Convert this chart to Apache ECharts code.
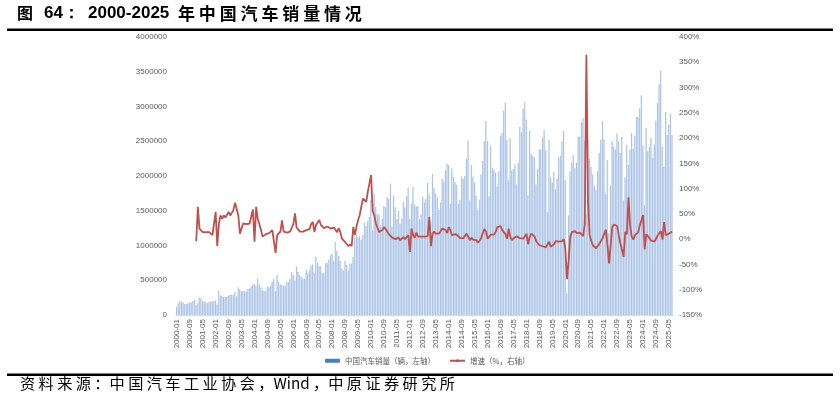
<!DOCTYPE html>
<html>
<head>
<meta charset="utf-8">
<script src="https://cdn.jsdelivr.net/npm/echarts@6/dist/echarts.min.js"></script>
<style>
    html, body { margin: 0; padding: 0; background: #fff; }
    #chart { width: 840px; height: 399px; }
</style>
</head>
<body>
<div id="chart"></div>
<script>
// 月度销量（辆），2000-01 ~ 2025-07
const sales2000 = [120000, 170000, 200000, 190000, 180000, 160000, 160000, 170000, 180000, 180000, 200000, 220000];
const sales2001 = [140000, 170000, 250000, 240000, 200000, 190000, 180000, 170000, 190000, 190000, 200000, 200000];
const sales2002 = [210000, 150000, 350000, 280000, 270000, 260000, 260000, 260000, 280000, 290000, 290000, 290000];
const sales2003 = [330000, 270000, 400000, 370000, 340000, 350000, 340000, 330000, 370000, 380000, 410000, 440000];
const sales2004 = [450000, 420000, 520000, 440000, 400000, 360000, 340000, 350000, 410000, 400000, 420000, 480000];
const sales2005 = [520000, 340000, 580000, 480000, 440000, 430000, 420000, 420000, 480000, 470000, 520000, 620000];
const sales2006 = [580000, 500000, 700000, 620000, 580000, 550000, 520000, 520000, 650000, 600000, 640000, 710000];
const sales2007 = [730000, 600000, 840000, 750000, 700000, 700000, 600000, 600000, 750000, 750000, 800000, 860000];
const sales2008 = [880000, 780000, 1050000, 920000, 850000, 780000, 670000, 640000, 780000, 720000, 640000, 740000];
const sales2009 = [740000, 830000, 1110000, 1150000, 1120000, 1140000, 1080000, 1150000, 1330000, 1280000, 1350000, 1410000];
const sales2010 = [1660000, 1220000, 1740000, 1550000, 1450000, 1440000, 1290000, 1380000, 1570000, 1550000, 1700000, 1670000];
const sales2011 = [1890000, 1270000, 1720000, 1550000, 1380000, 1500000, 1310000, 1380000, 1630000, 1550000, 1710000, 1830000];
const sales2012 = [1380000, 1600000, 1840000, 1590000, 1560000, 1570000, 1380000, 1450000, 1700000, 1620000, 1670000, 1900000];
const sales2013 = [1730000, 1350000, 2030000, 1830000, 1750000, 1690000, 1510000, 1620000, 1960000, 1920000, 2080000, 2180000];
const sales2014 = [2160000, 1600000, 2110000, 1990000, 1910000, 1870000, 1600000, 1660000, 1990000, 1960000, 2000000, 2250000];
const sales2015 = [2510000, 1650000, 2160000, 1990000, 1910000, 1720000, 1510000, 1660000, 2020000, 2220000, 2500000, 2790000];
const sales2016 = [2500000, 1710000, 2430000, 2120000, 2090000, 2050000, 1850000, 2070000, 2570000, 2620000, 2940000, 3060000];
const sales2017 = [2520000, 1940000, 2540000, 2080000, 2100000, 2170000, 1880000, 2190000, 2710000, 2630000, 2970000, 3060000];
const sales2018 = [2810000, 1720000, 2650000, 2320000, 2290000, 2270000, 1880000, 2100000, 2390000, 2380000, 2550000, 2660000];
const sales2019 = [2370000, 1480000, 2520000, 1980000, 1910000, 2060000, 1810000, 1960000, 2270000, 2290000, 2500000, 2650000];
const sales2020 = [1940000, 310000, 1430000, 2070000, 2190000, 2300000, 2110000, 2190000, 2570000, 2570000, 2770000, 2830000];
const sales2021 = [2500000, 1450000, 2530000, 2250000, 2130000, 2020000, 1860000, 1800000, 2070000, 2330000, 2520000, 2790000];
const sales2022 = [2530000, 1740000, 2230000, 1180000, 1860000, 2500000, 2420000, 2380000, 2610000, 2500000, 2330000, 2560000];
const sales2023 = [1650000, 1980000, 2450000, 2160000, 2380000, 2620000, 2390000, 2580000, 2850000, 2850000, 2970000, 3160000];
const sales2024 = [2440000, 1580000, 2690000, 2360000, 2420000, 2550000, 2260000, 2450000, 2800000, 3050000, 3320000, 3510000];
const sales2025 = [2420000, 2130000, 2920000, 2590000, 2740000, 2900000, 2590000];

// 同比增速（%），2001-01 起
const growth2001 = [-4, 64, 21, 24, 14, 15, 14, 13, 14, 11, 8, 7];
const growth2002 = [54, -14, 31, 47, 40, 47, 43, 45, 54, 47, 52, 58];
const growth2003 = [72, 69, 47, 11, 8, 31, 30, 30, 30, 31, 33, 59];
const growth2004 = [-5, 64, 40, 30, 18, 5, 8, 10, 12, 12, 12, 18];
const growth2005 = [18, -27, 8, 10, 15, 37, 15, 13, 13, 14, 15, 15];
const growth2006 = [30, 51, 23, 20, 15, 13, 15, 18, 18, 18, 20, 30];
const growth2007 = [34, 14, 28, 25, 38, 28, 25, 22, 21, 25, 22, 21];
const growth2008 = [20, 23, 21, 14, 22, 14, 1, -2, -6, -4, -14, -10];
const growth2009 = [-14, 24, 8, 25, 38, 48, 65, 80, 77, 74, 94, 97];
const growth2010 = [127, 55, 47, 31, 22, 14, 14, 18, 24, 20, 15, 10];
const growth2011 = [8, 3, 5, 0, -2, 3, -2, 1, 4, 0, 1, 8];
const growth2012 = [-25, 21, 7, 3, 13, 5, 5, 5, 4, 5, 2, 6];
const growth2013 = [44, -14, 11, 15, 11, 10, 11, 11, 21, 20, 18, 12];
const growth2014 = [24, 18, 8, 9, 10, 10, 6, 2, 2, 2, 3, 11];
const growth2015 = [8, -2, 3, -1, -1, -2, -7, -3, 2, 12, 20, 15];
const growth2016 = [1, 4, 9, 6, 9, 15, 24, 24, 26, 18, 14, 10];
const growth2017 = [1, 21, 4, -2, 2, 5, 6, 5, 2, 2, 1, 0];
const growth2018 = [11, -10, 5, 11, 10, 5, -4, -4, -12, -12, -14, -13];
const growth2019 = [-16, -14, -5, -15, -16, -10, -4, -7, -5, -4, -4, 0];
const growth2020 = [-18, -79, -43, 4, 14, 11, 16, 12, 13, 13, 12, 6];
const growth2021 = [30, 365, 74, 9, -3, -12, -11, -18, -20, -9, -9, 2];
const growth2022 = [1, 19, -11, -48, -12, 24, 29, 32, 26, 7, -8, -8];
const growth2023 = [-35, 14, 10, 83, 27, 5, -1, 8, 9, 14, 27, 24];
const growth2024 = [48, -20, 10, 9, 2, -3, -5, -5, -2, 7, 12, 16];
const growth2025 = [-1, 34, 8, 10, 11, 14, 15];

const salesYears = [sales2000, sales2001, sales2002, sales2003, sales2004, sales2005, sales2006,
    sales2007, sales2008, sales2009, sales2010, sales2011, sales2012, sales2013, sales2014,
    sales2015, sales2016, sales2017, sales2018, sales2019, sales2020, sales2021, sales2022,
    sales2023, sales2024, sales2025];
const growthYears = [growth2001, growth2002, growth2003, growth2004, growth2005, growth2006,
    growth2007, growth2008, growth2009, growth2010, growth2011, growth2012, growth2013,
    growth2014, growth2015, growth2016, growth2017, growth2018, growth2019, growth2020,
    growth2021, growth2022, growth2023, growth2024, growth2025];

// 类目：2000-01 ... 2025-07
const months = [];
salesYears.forEach((arr, k) => {
    arr.forEach((v, m) => {
        months.push((2000 + k) + '-' + (m < 9 ? '0' : '') + (m + 1));
    });
});
const salesData = [].concat(...salesYears);
const growthData = new Array(12).fill(null).concat(...growthYears);

const axisLabelStyle = {
    color: '#595959',
    fontSize: 8,
    fontFamily: 'Liberation Sans, Arial, sans-serif'
};

const boldText = (txt, x, size, family) => ({
    type: 'text',
    left: x,
    top: 5,
    style: {
        text: txt,
        fontSize: size,
        fontWeight: 'bold',
        fontFamily: family,
        fill: '#000'
    }
});

const chart = echarts.init(document.getElementById('chart'));
chart.setOption({
    animation: false,
    grid: {
        left: 176,
        right: 167,
        top: 37,
        bottom: 84
    },
    legend: {
        left: 320,
        top: 352,
        itemWidth: 15,
        itemHeight: 4,
        itemGap: 14,
        textStyle: {
            color: '#595959',
            fontSize: 7.5,
            fontFamily: 'Noto Sans CJK SC'
        },
        data: [
            { name: '中国汽车销量（辆，左轴）', itemStyle: { color: '#4a7ebb' } },
            { name: '增速（%，右轴）' }
        ]
    },
    xAxis: {
        type: 'category',
        data: months,
        axisLine: { lineStyle: { color: '#d9d9d9' } },
        axisTick: { interval: 7, lineStyle: { color: '#d9d9d9' } },
        axisLabel: Object.assign({ interval: 7, rotate: 90, margin: 4 }, axisLabelStyle)
    },
    yAxis: [
        {
            type: 'value',
            min: 0,
            max: 4000000,
            interval: 500000,
            axisLine: { show: false },
            axisTick: { show: false },
            splitLine: { show: false },
            axisLabel: Object.assign({ margin: 9, formatter: v => String(v) }, axisLabelStyle)
        },
        {
            type: 'value',
            min: -150,
            max: 400,
            interval: 50,
            axisLine: { show: false },
            axisTick: { show: false },
            splitLine: { show: false },
            axisLabel: Object.assign({ margin: 6, formatter: '{value}%' }, axisLabelStyle)
        }
    ],
    series: [
        {
            name: '中国汽车销量（辆，左轴）',
            type: 'bar',
            data: salesData,
            barCategoryGap: '18%',
            itemStyle: {
                color: new echarts.graphic.LinearGradient(0, 0, 1, 0, [
                    { offset: 0, color: '#8fb0de' },
                    { offset: 1, color: '#d3e0f2' }
                ])
            }
        },
        {
            name: '增速（%，右轴）',
            type: 'line',
            yAxisIndex: 1,
            data: growthData,
            symbol: 'none',
            lineStyle: { color: '#c0504d', width: 1.8 },
            itemStyle: { color: '#c0504d' }
        }
    ],
    graphic: [
        boldText('图', 17, 16, 'Noto Sans CJK SC'),
        boldText('64：', 44, 17, 'Liberation Sans'),
        boldText('2000-2025', 88, 17, 'Liberation Sans'),
        boldText('年 中 国 汽 车 销 量 情 况', 178, 17, 'Noto Sans CJK SC'),
        {
            type: 'rect',
            shape: { x: 7, y: 28.5, width: 826, height: 2.5 },
            style: { fill: '#000' }
        },
        {
            type: 'rect',
            shape: { x: 7, y: 373.5, width: 826, height: 2.5 },
            style: { fill: '#000' }
        },
        {
            type: 'text',
            left: 20,
            top: 376,
            style: {
                text: '资 料 来 源 ：中 国 汽 车 工 业 协 会 ，Wind ，中 原 证 券 研 究 所',
                fontSize: 15.2,
                fontFamily: 'Noto Sans CJK SC',
                fill: '#000'
            }
        }
    ]
});
</script>
</body>
</html>
